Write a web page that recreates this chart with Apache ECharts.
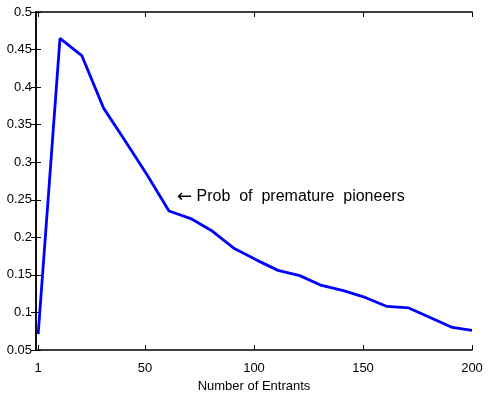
<!DOCTYPE html>
<html>
<head>
<meta charset="utf-8">
<script src="https://cdn.jsdelivr.net/npm/echarts@6/dist/echarts.min.js"></script>
<style>
  html, body { margin: 0; padding: 0; background: #fff; }
  #chart { width: 498px; height: 398px; }
</style>
</head>
<body>
<div id="chart"></div>
<script>
// data
const entrants = [1, 11, 21, 31, 41, 51, 61, 71, 81, 91, 101, 111, 121, 131, 141, 151, 161, 171, 181, 191, 200]
const prob = [0.071, 0.465, 0.442, 0.372, 0.328, 0.283, 0.235, 0.225, 0.208, 0.185, 0.170, 0.156, 0.149, 0.136, 0.129, 0.120, 0.108, 0.106, 0.093, 0.080, 0.076]
const xTicks = [1, 50, 100, 150, 200]
const annotation = 'Prob  of  premature  pioneers'

const font = 'Liberation Sans, Arial, sans-serif'

const chart = echarts.init(document.getElementById('chart'))

const xBase = {
  type: 'value',
  min: 0,
  max: 200,
  axisLine: { show: true, lineStyle: { color: '#000', width: 1.5 } },
  axisTick: { show: true, inside: true, length: 5, customValues: xTicks, lineStyle: { color: '#000' } },
  splitLine: { show: false }
}
const yBase = {
  type: 'value',
  min: 0.05,
  max: 0.5,
  interval: 0.05,
  axisLine: { show: true, lineStyle: { color: '#000', width: 1.5 } },
  axisTick: { show: true, inside: true, length: 5, lineStyle: { color: '#000' } },
  splitLine: { show: false }
}

chart.setOption({
  backgroundColor: '#ffffff',
  animation: false,
  grid: { left: 36, right: 26, top: 12, bottom: 44 },
  xAxis: [
    Object.assign({}, xBase, {
      position: 'bottom',
      name: 'Number of Entrants',
      nameLocation: 'middle',
      nameGap: 30,
      nameTextStyle: { color: '#000', fontSize: 13, fontFamily: font },
      axisLabel: { customValues: xTicks, color: '#000', fontSize: 13, fontFamily: font, margin: 12 }
    }),
    Object.assign({}, xBase, {
      position: 'top',
      axisLabel: { show: false }
    })
  ],
  yAxis: [
    Object.assign({}, yBase, {
      position: 'left',
      axisLabel: { color: '#000', fontSize: 13, fontFamily: font, margin: 4 }
    }),
    Object.assign({}, yBase, {
      position: 'right',
      axisLabel: { show: false }
    })
  ],
  graphic: [
    {
      type: 'text',
      left: 177,
      top: 188,
      style: {
        text: '{a|\u2190} ' + annotation,
        fill: '#000',
        font: '16px ' + font,
        rich: {
          a: { fontFamily: 'DejaVu Sans', fontSize: 18, fill: '#000' }
        }
      }
    }
  ],
  series: [
    {
      type: 'line',
      data: entrants.map((x, i) => [x, prob[i]]),
      showSymbol: false,
      lineStyle: { color: '#0000ff', width: 2.8 }
    }
  ]
})
</script>
</body>
</html>
